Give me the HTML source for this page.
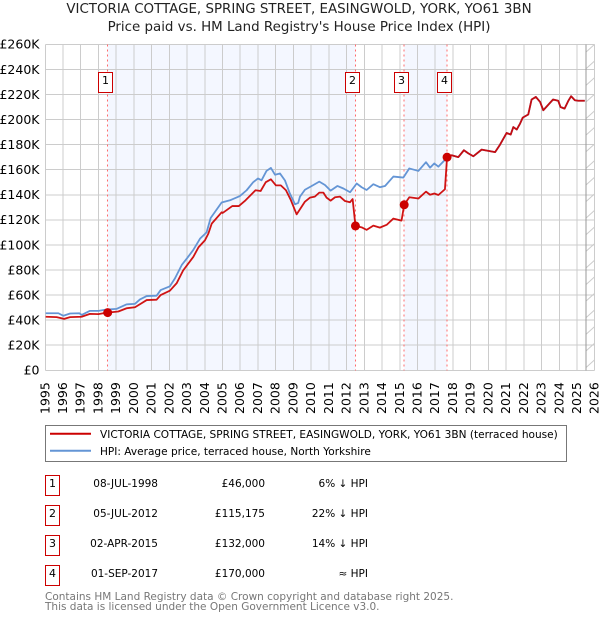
<!DOCTYPE html>
<html lang="en">
<head>
<meta charset="utf-8">
<title>Victoria Cottage price paid vs. HPI</title>
<style>
html,body{margin:0;padding:0;background:#fff;width:600px;height:620px;overflow:hidden}
svg{display:block;font-family:"DejaVu Sans","Liberation Sans",sans-serif;fill:#000}
</style>
</head>
<body>
<svg id="chart" xmlns="http://www.w3.org/2000/svg" width="600" height="620" viewBox="0 0 600 620">
  <text x="299" y="13" text-anchor="middle" font-size="13.4" fill="#222">VICTORIA COTTAGE, SPRING STREET, EASINGWOLD, YORK, YO61 3BN</text>
  <text x="299" y="31" text-anchor="middle" font-size="13.4" fill="#222">Price paid vs. HM Land Registry's House Price Index (HPI)</text>
  <g id="plot"></g>
  <g>
    <rect x="45.5" y="425.5" width="521" height="36" fill="#fff" stroke="#777" stroke-width="1"/>
    <line x1="50" x2="91" y1="433.7" y2="433.7" stroke="#cc0000" stroke-width="2"/>
    <text x="100" y="438" font-size="10.55">VICTORIA COTTAGE, SPRING STREET, EASINGWOLD, YORK, YO61 3BN (terraced house)</text>
    <line x1="50" x2="91" y1="450.7" y2="450.7" stroke="#6495d5" stroke-width="2"/>
    <text x="100" y="455" font-size="10.55">HPI: Average price, terraced house, North Yorkshire</text>
  </g>
  <g font-size="10.5">
    <g>
      <rect x="45.5" y="475.5" width="14" height="20" fill="#fff" stroke="#c00" stroke-width="1"/>
      <text x="52.5" y="487" text-anchor="middle" font-size="11">1</text>
      <text x="158" y="487" text-anchor="end">08-JUL-1998</text>
      <text x="265" y="487" text-anchor="end">£46,000</text>
      <text x="368" y="487" text-anchor="end">6% ↓ HPI</text>
    </g>
    <g>
      <rect x="45.5" y="505.5" width="14" height="20" fill="#fff" stroke="#c00" stroke-width="1"/>
      <text x="52.5" y="517" text-anchor="middle" font-size="11">2</text>
      <text x="158" y="517" text-anchor="end">05-JUL-2012</text>
      <text x="265" y="517" text-anchor="end">£115,175</text>
      <text x="368" y="517" text-anchor="end">22% ↓ HPI</text>
    </g>
    <g>
      <rect x="45.5" y="535.5" width="14" height="20" fill="#fff" stroke="#c00" stroke-width="1"/>
      <text x="52.5" y="547" text-anchor="middle" font-size="11">3</text>
      <text x="158" y="547" text-anchor="end">02-APR-2015</text>
      <text x="265" y="547" text-anchor="end">£132,000</text>
      <text x="368" y="547" text-anchor="end">14% ↓ HPI</text>
    </g>
    <g>
      <rect x="45.5" y="565.5" width="14" height="20" fill="#fff" stroke="#c00" stroke-width="1"/>
      <text x="52.5" y="577" text-anchor="middle" font-size="11">4</text>
      <text x="158" y="577" text-anchor="end">01-SEP-2017</text>
      <text x="265" y="577" text-anchor="end">£170,000</text>
      <text x="368" y="577" text-anchor="end">≈ HPI</text>
    </g>
  </g>
  <text x="45" y="600" font-size="10.5" fill="#777">Contains HM Land Registry data © Crown copyright and database right 2025.</text>
  <text x="45" y="610" font-size="10.5" fill="#777">This data is licensed under the Open Government Licence v3.0.</text>
</svg>
<script>
const xTickYears = [1995,1996,1997,1998,1999,2000,2001,2002,2003,2004,2005,2006,2007,2008,2009,2010,2011,2012,2013,2014,2015,2016,2017,2018,2019,2020,2021,2022,2023,2024,2025,2026];
const yTickValues = [0,20,40,60,80,100,120,140,160,180,200,220,240,260];
const hpiYears = [1995.02,1995.74,1996.02,1996.4,1996.92,1997.05,1997.52,1998,1998.46,1999.03,1999.59,2000.06,2000.34,2000.72,2001.28,2001.51,2002.03,2002.32,2002.7,2003,2003.35,2003.73,2004.1,2004.33,2004.95,2005.42,2005.98,2006.36,2006.73,2007,2007.2,2007.48,2007.73,2007.96,2008.24,2008.52,2008.8,2009.09,2009.27,2009.37,2009.65,2010.03,2010.46,2010.78,2011.1,2011.48,2011.82,2012.2,2012.57,2012.85,2013.13,2013.51,2013.88,2014.17,2014.64,2015.2,2015.54,2016.05,2016.48,2016.71,2016.95,2017.18,2017.55,2017.67,2017.93,2018.3,2018.62,2018.87,2019.15,2019.62,2020,2020.38,2020.66,2021.03,2021.26,2021.41,2021.6,2021.79,2021.94,2022.25,2022.44,2022.68,2022.92,2023.1,2023.65,2023.94,2024.07,2024.3,2024.5,2024.67,2024.88,2025.07,2025.44];
const hpiValues = [45.5,45.5,43.5,45.3,45.5,44.2,47.4,47.4,48.5,49,52.6,53,56.5,59.2,59.5,64,67,73.4,84,89.4,96,105,110,121.5,133.8,135.6,139,143.6,150,153,151.5,159,161.4,156,157,151.5,141,132.4,133.5,138.5,144,147,150.5,147.8,143.3,147,145,142,149,146,143.8,148.4,146,147,154.5,153.7,161,159,166,161.6,165,162.4,167.8,169.6,171.5,170,175.5,173,170.7,176,175,174,180,189.3,188,194,192,196.8,201.5,204,216,218,214,207.4,216,215,210,208.7,214.6,218.6,215.4,215,215];
const priceYears = [1995.02,1995.64,1996.06,1996.4,1997.05,1997.52,1998,1998.46,1998.52,1999.12,1999.59,2000.06,2000.43,2000.72,2001.28,2001.51,2002.03,2002.41,2002.78,2003.35,2003.64,2004.01,2004.2,2004.39,2004.95,2005.01,2005.55,2005.92,2006.3,2006.86,2007.15,2007.44,2007.73,2008.01,2008.29,2008.58,2008.86,2009.18,2009.37,2009.65,2009.93,2010.21,2010.46,2010.69,2010.87,2011.1,2011.35,2011.63,2011.91,2012.19,2012.34,2012.5,2012.85,2013.13,2013.51,2013.88,2014.26,2014.64,2015.1,2015.25,2015.54,2016.05,2016.48,2016.71,2016.95,2017.18,2017.55,2017.67,2017.93,2018.3,2018.62,2018.87,2019.15,2019.62,2020,2020.38,2020.66,2021.03,2021.26,2021.41,2021.6,2021.79,2021.94,2022.25,2022.44,2022.68,2022.92,2023.1,2023.65,2023.94,2024.07,2024.3,2024.5,2024.67,2024.88,2025.07,2025.44];
const priceValues = [42.7,42.4,41,42.4,42.7,45,44.8,46,46,46.9,49.5,50.3,53.5,56,56.3,60,63.5,69.4,79.7,90.4,98,103.7,109,117,126,125.5,131,131,135.6,143.6,143,150,152.3,147.5,147.5,143.6,135.6,124.4,128.4,134.5,137.7,138.5,141.7,141.7,137.7,135.3,138,138.5,135,134,136.6,115.175,114,112,115.4,113.8,116,121,119.4,132,138,137,142.5,140,141,139.8,144.4,170,171.5,170,175.5,173,170.7,176,175,174,180,189.3,188,194,192,196.8,201.5,204,216,218,214,207.4,216,215,210,208.7,214.6,218.6,215.4,215,215];
const saleYears = [1998.52,2012.5,2015.25,2017.67];
const salePrices = [46,115.175,132,170];
const saleLabels = ['1','2','3','4'];
const dataEndYear = 2025.5;

const NS = 'http://www.w3.org/2000/svg';
const plot = document.getElementById('plot');
const X0 = 45.3, X1 = 594.7, Y0 = 370.3, Y1 = 44.3;
function xScale(year){ return X0 + (year - 1995) * (X1 - X0) / 31; }
function yScale(v){ return Y0 - v * (Y0 - Y1) / 260; }
function make(tag, attrs, parent){
  const el = document.createElementNS(NS, tag);
  for (const k in attrs) el.setAttribute(k, attrs[k]);
  (parent || plot).appendChild(el);
  return el;
}
function pathOf(xs, ys){
  return xs.map(function(x, i){ return (i ? 'L' : 'M') + xScale(x).toFixed(2) + ' ' + yScale(ys[i]).toFixed(2); }).join('');
}

/* shaded ownership bands */
[[0,1],[2,3]].forEach(function(pair){
  const band = make('rect', {x: xScale(saleYears[pair[0]]), y: Y1, width: xScale(saleYears[pair[1]]) - xScale(saleYears[pair[0]]), height: Y0 - Y1, fill: '#f4f7ff'});
  
  
});

/* grid and ticks */
yTickValues.forEach(function(v){
  const g = make('line', {x1: X0, x2: X1, y1: yScale(v), y2: yScale(v), stroke: '#ccc', 'stroke-width': 1, 'shape-rendering': 'crispEdges'});
  
  
  const t = make('text', {x: 39.5, y: yScale(v) + 4.4, 'text-anchor': 'end', 'font-size': 12.5});
  
  
  t.textContent = '£' + v + (v ? 'K' : '');
});
xTickYears.forEach(function(y){
  const g = make('line', {x1: xScale(y), x2: xScale(y), y1: Y1, y2: Y0, stroke: '#ccc', 'stroke-width': 1, 'shape-rendering': 'crispEdges'});
  
  
  const t = make('text', {transform: 'translate(' + (xScale(y) + 4) + ',414) rotate(-90)', 'font-size': 12.5});
  
  
  t.textContent = y;
});

/* forecast / no-data hatching */
const endX = xScale(dataEndYear);
const hatchGroup = make('g', {stroke: '#ccc', 'stroke-width': 1, fill: 'none'});


for (let hy = Y1 + 8; hy <= Y0 + 1; hy += 16.6) {
  const h = make('line', {x1: endX, x2: X1, y1: hy, y2: hy - 8}, hatchGroup);
  
  
}
const endLine = make('line', {x1: endX, x2: endX, y1: Y1, y2: Y0, stroke: '#999', 'stroke-width': 1, 'shape-rendering': 'crispEdges'});



/* sale marker guides */
saleYears.forEach(function(y){
  const d = make('line', {x1: xScale(y), x2: xScale(y), y1: Y1, y2: Y0, stroke: '#ff6b6b', 'stroke-width': 1, 'stroke-dasharray': '2 3', 'shape-rendering': 'crispEdges'});
  
  
});

/* series */
const hpiLine = make('path', {d: pathOf(hpiYears, hpiValues), fill: 'none', stroke: '#6495d5', 'stroke-width': 1.8, 'stroke-linejoin': 'round'});


const priceLine = make('path', {d: pathOf(priceYears, priceValues), fill: 'none', stroke: '#cc0000', 'stroke-opacity': 0.92, 'stroke-width': 1.8, 'stroke-linejoin': 'round'});



/* sale points and flags */
saleYears.forEach(function(y, i){
  const c = make('circle', {cx: xScale(y), cy: yScale(salePrices[i]), r: 4.5, fill: '#cc0000'});
  
  
  const b = make('rect', {x: Math.round(xScale(y)) - 9.5, y: 72.5, width: 14, height: 20, fill: '#fff', stroke: '#c00', 'stroke-width': 1});
  
  
  const t = make('text', {x: Math.round(xScale(y)) - 2.5, y: 84, 'text-anchor': 'middle', 'font-size': 11});
  
  
  t.textContent = saleLabels[i];
});
</script>
</body>
</html>
